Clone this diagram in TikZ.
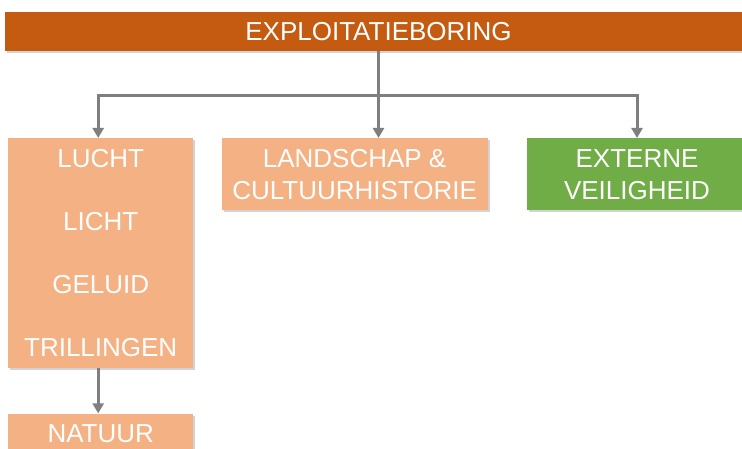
\documentclass[tikz,border=0pt]{standalone}
\usepackage{fontspec}
\setmainfont{Liberation Sans}
\usepackage{xcolor}
\usetikzlibrary{arrows.meta,positioning,shadows}

\definecolor{boordonker}{HTML}{C55A11}
\definecolor{boorlicht}{HTML}{F4B183}
\definecolor{boorgroen}{HTML}{70AD47}
\definecolor{lijngrijs}{HTML}{7F7F7F}

\begin{document}
\begin{tikzpicture}[
  x=1pt, y=1pt,
  bar/.style={fill=boordonker, text=white, minimum width=747pt, minimum height=39pt, inner sep=0pt,
    font=\fontsize{26}{30}\selectfont, drop shadow={shadow xshift=2pt, shadow yshift=-2pt, opacity=0.35}},
  box/.style={fill=boorlicht, text=white, align=center, inner sep=0pt, anchor=north west,
    drop shadow={shadow xshift=2pt, shadow yshift=-2pt, opacity=0.35}},
  arrow/.style={-{Triangle[length=10pt, width=11pt]}, line width=3pt, draw=lijngrijs}
]
\useasboundingbox (0,0) rectangle (742,-449);

\node[bar] (boring) at (378.5,-31.5) {EXPLOITATIEBORING};
\node[box, minimum width=185pt, minimum height=230pt, font=\fontsize{26}{63}\selectfont] (hinder) at (8,-138)
  {LUCHT\\LICHT\\GELUID\\TRILLINGEN};
\node[box, minimum width=266pt, minimum height=72pt, font=\fontsize{26}{32}\selectfont,
  right=28pt of hinder.north east, anchor=north west] (landschap) {LANDSCHAP \&\\CULTUURHISTORIE};
\node[box, fill=boorgroen, minimum width=220pt, minimum height=72pt, font=\fontsize{26}{32}\selectfont,
  right=39pt of landschap.north east, anchor=north west] (veiligheid) {EXTERNE\\VEILIGHEID};
\node[box, minimum width=185pt, minimum height=40pt, font=\fontsize{26}{30}\selectfont,
  below=45pt of hinder.south west, anchor=north west] (natuur) {NATUUR};

\coordinate (split) at (boring.south |- 0,-96);
\draw[arrow] (boring.south) -- (boring.south |- landschap.north);
\draw[arrow] (split) -| ([xshift=-2.5pt]hinder.north);
\draw[arrow] (split) -| (veiligheid.north);
\draw[arrow] ([xshift=-2.5pt]hinder.south) -- ([xshift=-2.5pt]natuur.north);
\end{tikzpicture}
\end{document}
